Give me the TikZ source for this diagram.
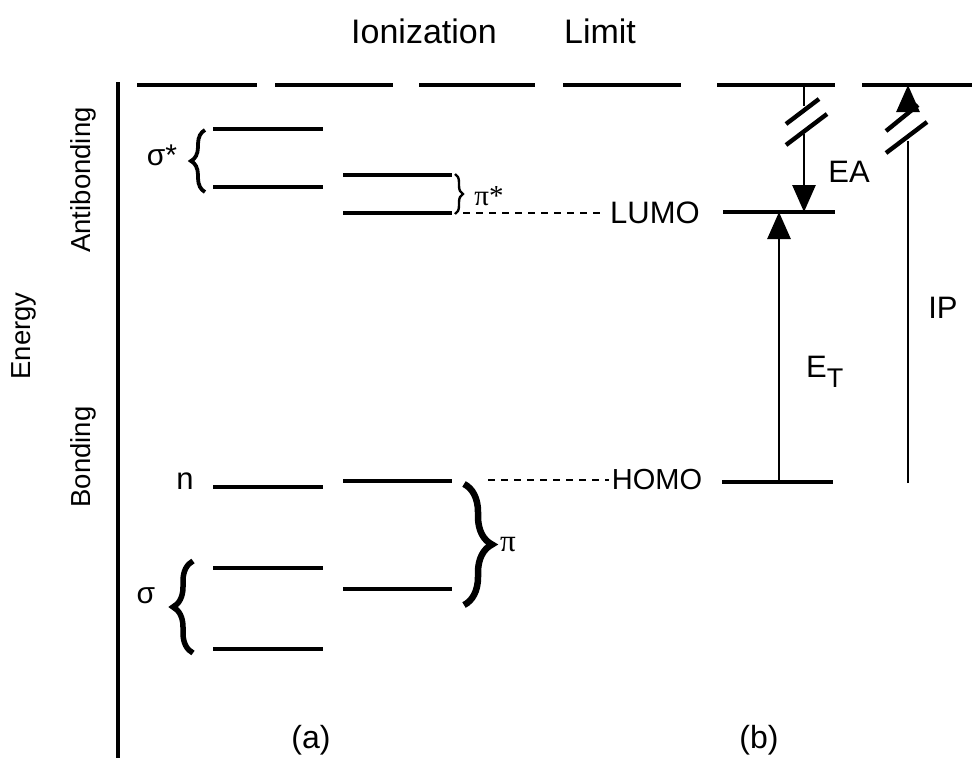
\documentclass[tikz,border=0pt]{standalone}
\usepackage{fontspec}
\setmainfont{Liberation Sans}
\newfontfamily\serifgr{Liberation Serif}
\usetikzlibrary{arrows.meta,decorations.pathreplacing}
\begin{document}
\begin{tikzpicture}[x=1pt,y=-1pt,
  lvl/.style={line width=3.4pt},
  axisline/.style={line width=3.4pt},
  limitdash/.style={line width=3.6pt},
  conn/.style={line width=2.8pt},
  slashmark/.style={line width=4.4pt},
  tipped/.style={conn,-{Triangle[width=23pt,length=27pt]}},
  dotline/.style={line width=2.6pt,dash pattern=on 7pt off 6pt},
  lbl/.style={inner sep=0pt,font=\fontsize{31}{31}\selectfont},
  sidelbl/.style={inner sep=0pt,rotate=90,font=\fontsize{27.5}{27.5}\selectfont},
  greek/.style={inner sep=0pt,font=\fontsize{30}{30}\selectfont},
  bracedec/.style={decorate,decoration={brace,amplitude=#1}}
]
\useasboundingbox (0,0) rectangle (972,758);

% titles
\node[lbl,font=\fontsize{34}{34}\selectfont] (ion) at (424,31) {Ionization};
\node[lbl,font=\fontsize{34}{34}\selectfont] (lim) at (600,31) {Limit};

% side labels
\node[sidelbl] (anti) at (83,180) {Antibonding};
\node[sidelbl] (energy) at (24,336) {Energy};
\node[sidelbl] (bond) at (83,457) {Bonding};

% energy axis
\coordinate (axT) at (118,82);
\coordinate (axB) at (118,758);
\draw[axisline] (axT) -- (axB);

% ionization limit (dashed)
\foreach \a/\b [count=\i] in {137/257,275/393,419/535,563/681,717/835,862/972}{
  \coordinate (lim\i a) at (\a,85);
  \coordinate (lim\i b) at (\b,85);
  \draw[limitdash] (lim\i a) -- (lim\i b);
}

% column (a) levels
\coordinate (ss1a) at (213,129); \coordinate (ss1b) at (323,129);
\coordinate (ss2a) at (213,187); \coordinate (ss2b) at (323,187);
\coordinate (pp1a) at (343,175); \coordinate (pp1b) at (452,175);
\coordinate (pp2a) at (343,213); \coordinate (pp2b) at (452,213);
\coordinate (na)   at (213,487); \coordinate (nb)   at (323,487);
\coordinate (p1a)  at (343,481); \coordinate (p1b)  at (452,481);
\coordinate (s1a)  at (213,568); \coordinate (s1b)  at (323,568);
\coordinate (p2a)  at (343,589); \coordinate (p2b)  at (452,589);
\coordinate (s2a)  at (213,649); \coordinate (s2b)  at (323,649);
\draw[lvl] (ss1a) -- (ss1b);
\draw[lvl] (ss2a) -- (ss2b);
\draw[lvl] (pp1a) -- (pp1b);
\draw[lvl] (pp2a) -- (pp2b);
\draw[lvl] (na) -- (nb);
\draw[lvl] (p1a) -- (p1b);
\draw[lvl] (s1a) -- (s1b);
\draw[lvl] (p2a) -- (p2b);
\draw[lvl] (s2a) -- (s2b);

% braces
\coordinate (bssT) at (205,130); \coordinate (bssB) at (205,192);
\draw[bracedec=14pt,line width=3.8pt] (bssB) -- (bssT);
\coordinate (bppT) at (455,174); \coordinate (bppB) at (455,214);
\draw[bracedec=8pt,line width=2.4pt] (bppT) -- (bppB);
\coordinate (bsT) at (193,561); \coordinate (bsB) at (193,653);
\draw[bracedec=20pt,line width=5.5pt] (bsB) -- (bsT);
\coordinate (bpT) at (464,484); \coordinate (bpB) at (464,605);
\draw[bracedec=28pt,line width=6.5pt] (bpT) -- (bpB);

% column (a) labels
\node[greek] (sigstar) at (162,155) {σ*};
\node[lbl] (nlab) at (185,481) {n};
\node[greek] (sig) at (146,596) {σ};
\node[inner sep=0pt,font=\serifgr\fontsize{29}{29}\selectfont] (pistar) at (489,196) {π*};
\node[inner sep=0pt,font=\serifgr\fontsize{31}{31}\selectfont] (pi) at (508,545) {π};

% LUMO / HOMO
\node[lbl] (lumo) at (655,213) {LUMO};
\node[lbl,font=\fontsize{29}{29}\selectfont] (homo) at (657,480) {HOMO};
\coordinate (dl1) at (463,213);
\draw[dotline] (dl1) -- ([xshift=-5pt]lumo.west);
\coordinate (dh1) at (488,480);
\draw[dotline] (dh1) -- ([xshift=-3pt]homo.west);

% column (b) levels
\coordinate (luA) at (723,212); \coordinate (luB) at (835,212);
\coordinate (hoA) at (722,482); \coordinate (hoB) at (833,482);
\draw[lvl] (luA) -- (luB);
\draw[lvl] (hoA) -- (hoB);

% EA arrow (broken)
\coordinate (eaT) at (804,85);
\coordinate (eaM1) at (804,106);
\coordinate (eaM2) at (804,134);
\coordinate (eaE) at (804,212);
\draw[conn] (eaT) -- (eaM1);
\draw[tipped] (eaM2) -- (eaE);
\coordinate (eas1a) at (786,124); \coordinate (eas1b) at (819,99);
\coordinate (eas2a) at (786,145); \coordinate (eas2b) at (827,114);
\draw[slashmark] (eas1a) -- (eas1b);
\draw[slashmark] (eas2a) -- (eas2b);
\node[lbl] (ea) at (849,172) {EA};

% E_T arrow
\coordinate (etS) at (779,482);
\coordinate (etE) at (779,212);
\draw[tipped] (etS) -- (etE);
\node[lbl,anchor=west] (et) at (806,372) {E\raisebox{-10pt}{\fontsize{27}{27}\selectfont T}};

% IP arrow (broken)
\coordinate (ipS) at (908,483);
\coordinate (ipM1) at (908,141);
\coordinate (ipM2) at (908,114);
\coordinate (ipE) at (908,85);
\draw[conn] (ipS) -- (ipM1);
\draw[tipped] (ipM2) -- (ipE);
\coordinate (ips1a) at (886,131); \coordinate (ips1b) at (918,105);
\coordinate (ips2a) at (886,153); \coordinate (ips2b) at (927,122);
\draw[slashmark] (ips1a) -- (ips1b);
\draw[slashmark] (ips2a) -- (ips2b);
\node[lbl] (ip) at (943,308) {IP};

% column captions
\node[lbl,font=\fontsize{32}{32}\selectfont] (capa) at (311,740) {(a)};
\node[lbl,font=\fontsize{32}{32}\selectfont] (capb) at (759,740) {(b)};
\end{tikzpicture}
\end{document}
